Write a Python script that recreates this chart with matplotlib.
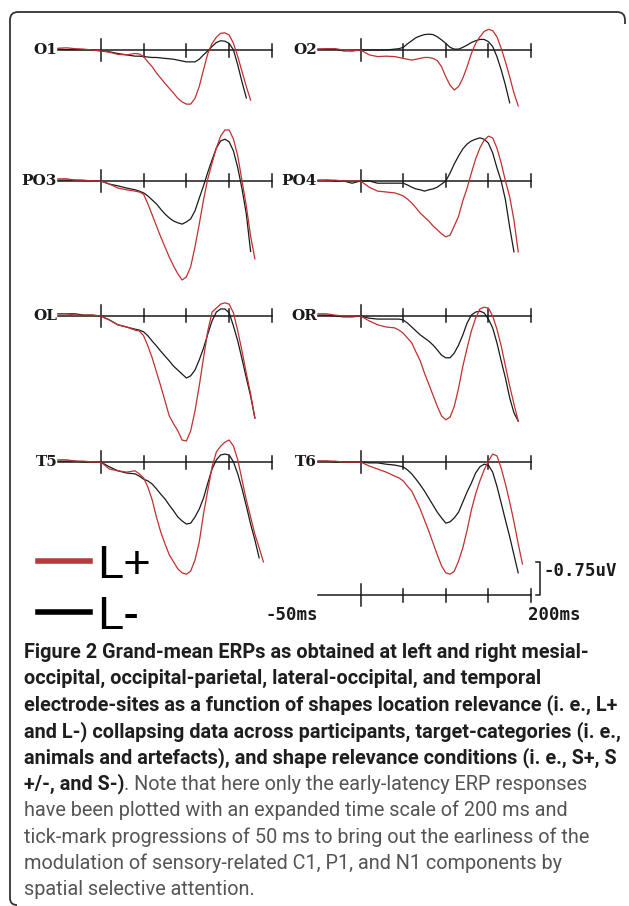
import matplotlib.pyplot as plt
import numpy as np
from matplotlib.lines import Line2D
from matplotlib.path import Path
from matplotlib.patches import PathPatch

W, H = 629, 906
RED = '#c0302f'
BLACK = '#1a1a1a'

# sample times (ms) shared by all traces; each trace stops where it leaves the plot
t_ms = [-50, -40, -30, -20, -10, 0, 10, 20, 30, 40,
        45, 50, 55, 60, 65, 70, 75, 80, 85, 90, 95, 100, 105, 110, 115,
        120, 125, 130, 135, 140, 145, 150, 155, 160, 165, 170, 175, 180, 185, 190]

# amplitudes in uV (negative plotted up), L+ = red, L- = black
O1_Lp = [-0.04, -0.05, -0.03, -0.02, 0, 0.02, 0.05, 0.1, 0.11, 0.08,
         0.09, 0.15, 0.27, 0.38, 0.52, 0.64, 0.76, 0.87, 0.98, 1.1, 1.18, 1.23, 1.23, 1.1, 0.83,
         0.45, 0.08, -0.15, -0.29, -0.38, -0.39, -0.34, -0.15, 0.15, 0.49, 0.83, 1.14]
O1_Lm = [-0.02, -0.01, -0.01, -0.01, 0, 0.02, 0.04, 0.08, 0.11, 0.14,
         0.14, 0.15, 0.16, 0.17, 0.17, 0.18, 0.19, 0.2, 0.21, 0.23, 0.25, 0.27, 0.27, 0.27, 0.21,
         0.11, 0.02, -0.08, -0.17, -0.21, -0.2, -0.15, 0, 0.34, 0.73, 1.09]
O2_Lp = [-0.02, -0.03, -0.03, 0, 0.02, 0, 0.11, 0.15, 0.14, 0.15,
         0.17, 0.19, 0.21, 0.23, 0.21, 0.19, 0.17, 0.17, 0.19, 0.24, 0.38, 0.61, 0.8, 0.91, 0.83,
         0.64, 0.38, 0.08, -0.15, -0.3, -0.42, -0.47, -0.44, -0.3, -0.04, 0.27, 0.61, 0.98, 1.27]
O2_Lm = [-0.02, -0.02, -0.02, 0.02, 0.02, 0, 0, 0, 0, -0.02,
         -0.03, -0.06, -0.14, -0.21, -0.28, -0.32, -0.35, -0.36, -0.35, -0.3, -0.23, -0.15, -0.06, -0.02, -0.02,
         -0.06, -0.11, -0.17, -0.21, -0.24, -0.24, -0.19, -0.08, 0.15, 0.45, 0.8, 1.2]
PO3_Lp = [-0.05, -0.05, -0.02, -0.02, 0, 0, 0.07, 0.16, 0.2, 0.23,
          0.25, 0.3, 0.52, 0.77, 1.02, 1.27, 1.5, 1.73, 1.93, 2.11, 2.25, 2.18, 1.95, 1.5, 0.98,
          0.43, -0.05, -0.41, -0.75, -1.02, -1.16, -1.16, -0.95, -0.57, 0, 0.57, 1.25, 1.77]
PO3_Lm = [-0.02, -0.02, -0.02, -0.01, 0, 0, 0.07, 0.11, 0.16, 0.2,
          0.23, 0.27, 0.34, 0.43, 0.52, 0.64, 0.75, 0.84, 0.91, 0.95, 0.98, 0.93, 0.86, 0.68, 0.39,
          0.11, -0.2, -0.48, -0.75, -0.91, -0.95, -0.89, -0.68, -0.3, 0.18, 0.75, 1.6]
PO4_Lp = [0, -0.02, -0.02, 0, 0, 0, 0.14, 0.23, 0.25, 0.27,
          0.3, 0.34, 0.41, 0.5, 0.61, 0.73, 0.82, 0.91, 1.02, 1.11, 1.2, 1.27, 1.23, 1.02, 0.8,
          0.45, 0.16, -0.18, -0.5, -0.75, -0.93, -1.02, -0.98, -0.75, -0.41, 0, 0.36, 0.89, 1.61]
PO4_Lm = [-0.02, -0.02, 0, 0, 0.05, 0, 0, 0.05, 0.05, 0.05,
          0.05, 0.05, 0.09, 0.14, 0.18, 0.2, 0.23, 0.2, 0.18, 0.14, 0.07, 0, -0.18, -0.39, -0.57,
          -0.73, -0.84, -0.91, -0.95, -0.98, -0.95, -0.86, -0.64, -0.3, 0, 0.43, 1.05, 1.61]
OL_Lp = [-0.05, -0.05, -0.02, -0.02, -0.02, 0, 0.09, 0.2, 0.25, 0.32,
         0.34, 0.45, 0.68, 0.95, 1.27, 1.59, 1.93, 2.27, 2.45, 2.61, 2.82, 2.84, 2.61, 2.16, 1.59,
         0.95, 0.34, -0.09, -0.18, -0.27, -0.3, -0.27, -0.07, 0.34, 0.8, 1.3, 1.77, 2.32]
OL_Lm = [-0.05, -0.05, -0.05, -0.02, -0.02, 0, 0.09, 0.2, 0.25, 0.3,
         0.32, 0.36, 0.45, 0.57, 0.68, 0.8, 0.91, 1.02, 1.14, 1.23, 1.32, 1.41, 1.36, 1.23, 1.0,
         0.73, 0.41, 0.11, -0.09, -0.16, -0.16, -0.07, 0.23, 0.57, 0.98, 1.41, 1.82, 2.32]
OR_Lp = [-0.05, -0.05, -0.02, 0, 0, 0, 0.11, 0.2, 0.25, 0.27,
         0.32, 0.39, 0.5, 0.61, 0.82, 1.02, 1.3, 1.55, 1.8, 2.05, 2.27, 2.36, 2.3, 2.05, 1.64,
         1.14, 0.73, 0.34, 0.05, -0.16, -0.2, -0.18, 0, 0.3, 0.68, 1.14, 1.59, 2.0, 2.39]
OR_Lm = [-0.02, -0.02, 0, 0.02, 0.02, 0, 0.05, 0.07, 0.07, 0.07,
         0.07, 0.09, 0.16, 0.25, 0.34, 0.43, 0.5, 0.57, 0.66, 0.77, 0.89, 0.95, 0.95, 0.84, 0.66,
         0.43, 0.16, -0.02, -0.09, -0.11, -0.07, 0.07, 0.27, 0.61, 1.02, 1.41, 1.86, 2.2, 2.39]
T5_Lp = [-0.05, -0.05, -0.02, -0.02, 0, 0, 0.16, 0.2, 0.23, 0.2,
         0.27, 0.36, 0.57, 0.86, 1.25, 1.59, 1.86, 2.11, 2.27, 2.43, 2.52, 2.55, 2.48, 2.23, 1.82,
         1.18, 0.64, 0.11, -0.23, -0.36, -0.45, -0.5, -0.36, -0.05, 0.41, 0.86, 1.25, 1.64, 1.95, 2.27]
T5_Lm = [-0.02, -0.02, -0.02, 0, 0, 0, 0.11, 0.2, 0.25, 0.27,
         0.32, 0.39, 0.43, 0.5, 0.61, 0.73, 0.84, 0.98, 1.11, 1.25, 1.34, 1.41, 1.39, 1.25, 1.07,
         0.82, 0.48, 0.16, -0.05, -0.16, -0.18, -0.16, 0, 0.27, 0.61, 1.0, 1.41, 1.77, 2.18]
T6_Lp = [-0.02, -0.02, -0.02, 0, 0, 0, 0.09, 0.16, 0.23, 0.32,
         0.36, 0.43, 0.55, 0.66, 0.86, 1.07, 1.32, 1.57, 1.84, 2.11, 2.36, 2.52, 2.55, 2.48, 2.25,
         1.95, 1.55, 1.09, 0.73, 0.43, 0.18, -0.02, -0.18, -0.14, 0.14, 0.5, 0.91, 1.36, 1.86, 2.32]
T6_Lm = [-0.02, -0.02, 0, 0, 0, 0, 0.02, 0.02, 0.05, 0.07,
         0.09, 0.11, 0.18, 0.27, 0.39, 0.52, 0.66, 0.82, 0.98, 1.14, 1.27, 1.39, 1.36, 1.27, 1.14,
         0.91, 0.68, 0.48, 0.25, 0.11, 0.05, 0.07, 0.23, 0.55, 0.93, 1.32, 1.7, 2.11, 2.52]

panels = [('O1', O1_Lp, O1_Lm), ('O2', O2_Lp, O2_Lm),
          ('PO3', PO3_Lp, PO3_Lm), ('PO4', PO4_Lp, PO4_Lm),
          ('OL', OL_Lp, OL_Lm), ('OR', OR_Lp, OR_Lm),
          ('T5', T5_Lp, T5_Lm), ('T6', T6_Lp, T6_Lm)]
tick_ms = [0, 50, 100, 150, 200]
scale_uv = 0.75

caption_bold = ["Figure 2 Grand-mean ERPs as obtained at left and right mesial-",
                "occipital, occipital-parietal, lateral-occipital, and temporal",
                "electrode-sites as a function of shapes location relevance (i. e., L+",
                "and L-) collapsing data across participants, target-categories (i. e.,",
                "animals and artefacts), and shape relevance conditions (i. e., S+, S",
                "+/-, and S-)"]
caption_rest = [". Note that here only the early-latency ERP responses",
                "have been plotted with an expanded time scale of 200 ms and",
                "tick-mark progressions of 50 ms to bring out the earliness of the",
                "modulation of sensory-related C1, P1, and N1 components by",
                "spatial selective attention."]

fig = plt.figure(figsize=(W / 100, H / 100), dpi=100)

PX_UV = 44.0          # pixels per microvolt
col_x = [(58, 272), (318, 531)]
row_y = [50, 181, 316, 462]
UP, DOWN = 60, 125    # pixels above / below the baseline in each axes box


def panel_axes(x0, x1, base):
    ax = fig.add_axes([x0 / W, 1 - (base + DOWN) / H, (x1 - x0) / W, (UP + DOWN) / H])
    ax.set_xlim(-50, 200)
    ax.set_ylim(DOWN / PX_UV, -UP / PX_UV)
    ax.axis('off')
    ax.plot([-50, 200], [0, 0], color=BLACK, lw=1.1, clip_on=False)
    big = 11 / PX_UV
    small = 6.5 / PX_UV
    for tk in tick_ms:
        h = big if tk == 0 else small
        ax.plot([tk, tk], [-h, h], color=BLACK, lw=1.1, clip_on=False)
    return ax


for i, (name, lp, lm) in enumerate(panels):
    x0, x1 = col_x[i % 2]
    ax = panel_axes(x0, x1, row_y[i // 2])
    ax.plot(t_ms[:len(lm)], lm, color=BLACK, lw=0.9, clip_on=False)
    ax.plot(t_ms[:len(lp)], lp, color=RED, lw=0.9, clip_on=False)
    ax.text(-51, 0, name, ha='right', va='center', fontsize=11, fontweight='bold',
            family='DejaVu Serif', color=BLACK)

# time / amplitude scale
ax = panel_axes(318, 531, 595)
ax.text(-50, 20 / PX_UV, '-50ms', ha='right', va='center', fontsize=12.5,
        fontweight='bold', family='DejaVu Sans Mono', color=BLACK)
ax.text(196, 20 / PX_UV, '200ms', ha='left', va='center', fontsize=12.5,
        fontweight='bold', family='DejaVu Sans Mono', color=BLACK)
ax.plot([206, 211, 211, 206], [-scale_uv, -scale_uv, 0, 0], color=BLACK, lw=1.1, clip_on=False)
ax.text(215, -0.55, '-%.2fuV' % scale_uv, ha='left', va='center', fontsize=12.5,
        fontweight='bold', family='DejaVu Sans Mono', color=BLACK)

# legend
handles = [Line2D([], [], color='#b83a3a', lw=4), Line2D([], [], color='black', lw=4)]
fig.legend(handles, ['L+', 'L-'], loc='upper left', bbox_to_anchor=(38 / W, 1 - 544 / H),
           frameon=False, handlelength=1.1, handletextpad=0.15,
           labelspacing=0.14, borderpad=0, borderaxespad=0,
           prop={'family': 'Liberation Sans', 'size': 34})

# caption, sized so the widest bold line spans the text block
r = fig.canvas.get_renderer()
widths = []
for s in caption_bold[:5]:
    probe = fig.text(0, 0, s, fontsize=14, fontweight='bold', family='Roboto')
    widths.append(probe.get_window_extent(r).width)
    probe.remove()
cap_size = 14 * 598 / max(widths)

y0, dy = 652, 26.4
for i, s in enumerate(caption_bold):
    tb = fig.text(24 / W, 1 - (y0 + i * dy) / H, s, fontsize=cap_size, fontweight='bold',
                  family='Roboto', color='#1e1e1e', va='center', ha='left')
fig.text(0, 0, '')
plt.annotate(caption_rest[0], xy=(1, 0), xycoords=tb, va='bottom', ha='left',
             fontsize=cap_size, family='Roboto', color='#555555', annotation_clip=False)
n = len(caption_bold)
for j, s in enumerate(caption_rest[1:]):
    fig.text(24 / W, 1 - (y0 + (n + j) * dy) / H, s, fontsize=cap_size,
             family='Roboto', color='#555555', va='center', ha='left')

# rounded frame (left and top edges)
verts = [(17, 905), (10, 905), (10, 898), (10, 20), (10, 12), (18, 12),
         (617, 12), (625, 12), (625, 20), (625, 24)]
codes = [Path.MOVETO, Path.CURVE3, Path.CURVE3, Path.LINETO, Path.CURVE3, Path.CURVE3,
         Path.LINETO, Path.CURVE3, Path.CURVE3, Path.LINETO]
verts = [(x / W, 1 - y / H) for x, y in verts]
fig.add_artist(PathPatch(Path(verts, codes), transform=fig.transFigure,
                         fill=False, edgecolor='#333333', lw=1.3))

fig.savefig('out.png', dpi=100)
